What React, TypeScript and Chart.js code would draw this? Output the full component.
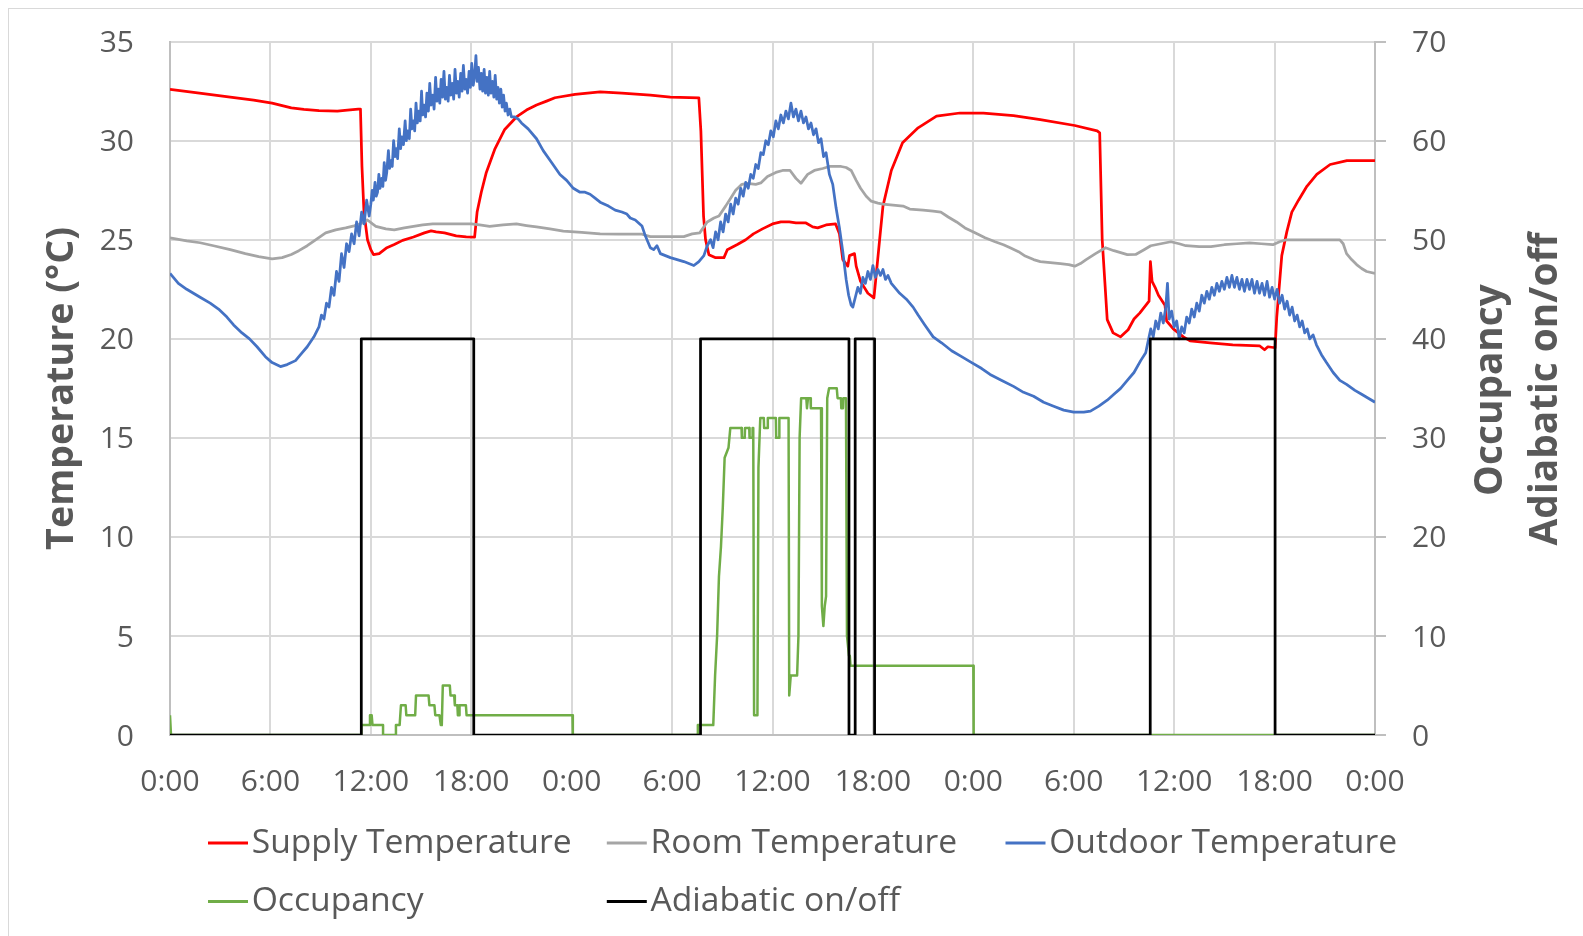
import React, { useEffect, useRef } from "react";
import { Chart, registerables } from "chart.js";

Chart.register(...registerables);

// ---- tick settings ----
const hourMin = 0;
const hourMax = 72;
const hourStep = 6;
const tempMin = 0;
const tempMax = 35;
const tempStep = 5;
const rightMin = 0;
const rightMax = 70;
const rightStep = 10;

const seriesNames = [
  "Supply Temperature",
  "Room Temperature",
  "Outdoor Temperature",
  "Occupancy",
  "Adiabatic on/off",
];
const leftTitle = "Temperature (°C)";
const rightTitleLines = ["Occupancy", "Adiabatic on/off"];

// ---- data: [hour, value] ----
const supplyTemp: [number, number][] = [
  [0, 32.6], [1.76, 32.4], [3.6, 32.2], [5.0, 32.05], [6.1, 31.9], [7.25, 31.66], [8.0, 31.58], [8.9, 31.52],
  [10.0, 31.5], [10.6, 31.55], [11.25, 31.6], [11.38, 31.6], [11.47, 28.7], [11.59, 26.4], [11.8, 25.0],
  [12.0, 24.5], [12.16, 24.25], [12.5, 24.3], [12.96, 24.6], [13.4, 24.76], [13.9, 24.97], [14.55, 25.14],
  [15.2, 25.35], [15.6, 25.45], [15.9, 25.4], [16.4, 25.35], [17.1, 25.2], [17.7, 25.15], [18.2, 25.13],
  [18.35, 26.4], [18.6, 27.4], [18.9, 28.4], [19.4, 29.56], [20.0, 30.57], [20.7, 31.2], [21.3, 31.55],
  [21.9, 31.8], [22.5, 32.0], [23.0, 32.17], [24.2, 32.34], [25.7, 32.47], [27.0, 32.4], [28.7, 32.3],
  [29.9, 32.2], [31.6, 32.17], [31.72, 30.5], [31.88, 26.2], [32.0, 25.0], [32.2, 24.25], [32.57, 24.1],
  [33.1, 24.1], [33.3, 24.5], [33.9, 24.76], [34.4, 25.0], [34.86, 25.3], [35.4, 25.55], [36.0, 25.8],
  [36.5, 25.9], [37.0, 25.9], [37.4, 25.85], [38.0, 25.85], [38.4, 25.65], [38.7, 25.6], [39.2, 25.75],
  [39.77, 25.8], [40.0, 25.3], [40.2, 24.0], [40.5, 23.67], [40.6, 24.2], [40.9, 24.3], [41.0, 23.67],
  [41.26, 22.9], [41.7, 22.3], [42.06, 22.07], [42.17, 23.0], [42.4, 25.0], [42.6, 26.7], [43.1, 28.5],
  [43.77, 29.9], [44.7, 30.65], [45.8, 31.24], [47.2, 31.4], [48.6, 31.4], [50.4, 31.27], [52.0, 31.07],
  [54.06, 30.77], [55.4, 30.5], [55.55, 30.4], [55.7, 25.0], [56.0, 20.97], [56.35, 20.3], [56.8, 20.1],
  [57.25, 20.46], [57.6, 21.0], [57.94, 21.3], [58.5, 21.9], [58.58, 23.9], [58.68, 22.9], [58.86, 22.6],
  [59.06, 22.2], [59.45, 21.7], [59.55, 20.9], [59.95, 20.5], [60.55, 20.1], [60.95, 19.9], [62.15, 19.8],
  [63.5, 19.7], [65.1, 19.65], [65.4, 19.45], [65.6, 19.6], [66.03, 19.55], [66.13, 21.1], [66.43, 24.2],
  [66.73, 25.4], [67.03, 26.4], [67.43, 27.0], [67.93, 27.7], [68.52, 28.3], [69.32, 28.8], [70.32, 29.0],
  [72, 29.0],
];

const roomTemp: [number, number][] = [
  [0, 25.1], [1.0, 24.95], [1.8, 24.85], [2.6, 24.7], [3.6, 24.5], [4.5, 24.3], [5.3, 24.15], [6.1, 24.04],
  [6.7, 24.1], [7.25, 24.26], [7.7, 24.45], [8.2, 24.7], [8.7, 25.0], [9.3, 25.35], [9.9, 25.5], [10.5, 25.6],
  [11.0, 25.7], [11.5, 25.85], [11.8, 26.0], [12.1, 25.8], [12.3, 25.68], [12.9, 25.55], [13.4, 25.5],
  [14.0, 25.6], [14.55, 25.68], [15.1, 25.75], [15.7, 25.8], [16.8, 25.8], [18.0, 25.8], [18.5, 25.75],
  [19.1, 25.68], [19.9, 25.75], [20.7, 25.8], [21.3, 25.72], [21.9, 25.65], [22.7, 25.55], [23.5, 25.44],
  [24.6, 25.38], [25.7, 25.3], [26.8, 25.28], [28.2, 25.28], [28.7, 25.16], [29.5, 25.16], [30.7, 25.16],
  [31.2, 25.3], [31.65, 25.35], [32.1, 25.9], [32.5, 26.1], [32.8, 26.2], [33.2, 26.7], [33.5, 27.1],
  [33.8, 27.5], [34.17, 27.8], [34.5, 27.85], [35.0, 27.8], [35.3, 27.87], [35.7, 28.2], [36.2, 28.4],
  [36.6, 28.5], [37.05, 28.5], [37.4, 28.1], [37.7, 27.85], [38.1, 28.3], [38.5, 28.5], [39.0, 28.6],
  [39.4, 28.7], [39.8, 28.7], [40.1, 28.7], [40.4, 28.65], [40.7, 28.5], [41.0, 28.0], [41.26, 27.6],
  [41.6, 27.2], [41.9, 26.95], [42.3, 26.85], [42.6, 26.8], [43.2, 26.75], [43.8, 26.7], [44.2, 26.55],
  [45.0, 26.5], [45.6, 26.45], [46.06, 26.4], [46.5, 26.15], [47.0, 25.9], [47.5, 25.6], [48.1, 25.35],
  [48.7, 25.1], [49.3, 24.9], [49.8, 24.75], [50.2, 24.6], [50.7, 24.4], [51.1, 24.18], [51.6, 24.0],
  [52.0, 23.9], [52.6, 23.85], [53.2, 23.8], [53.7, 23.75], [54.06, 23.67], [54.4, 23.8], [54.74, 24.0],
  [55.3, 24.3], [55.9, 24.6], [56.4, 24.45], [56.8, 24.35], [57.2, 24.25], [57.7, 24.26], [58.2, 24.5],
  [58.6, 24.7], [59.2, 24.8], [59.8, 24.9], [60.3, 24.8], [60.7, 24.7], [61.5, 24.65], [62.2, 24.65],
  [63.0, 24.75], [63.75, 24.8], [64.5, 24.85], [65.2, 24.8], [65.9, 24.75], [66.3, 24.9], [66.7, 25.0],
  [67.5, 25.0], [68.3, 25.0], [69.1, 25.0], [69.9, 25.0], [70.1, 24.8], [70.3, 24.3], [70.6, 24.0],
  [70.9, 23.75], [71.2, 23.55], [71.5, 23.4], [72, 23.3],
];

const outdoorTemp: [number, number][] = [
  [0, 23.3], [0.5, 22.8], [1.0, 22.5], [1.8, 22.1], [2.4, 21.8], [2.9, 21.5], [3.4, 21.1], [3.8, 20.7],
  [4.3, 20.3], [4.75, 20.0], [5.2, 19.6], [5.7, 19.1], [6.1, 18.8], [6.6, 18.6], [7.0, 18.7], [7.5, 18.9],
  [7.9, 19.3], [8.2, 19.6], [8.6, 20.1], [8.9, 20.6], [9.05, 21.2], [9.2, 21.0], [9.35, 21.8], [9.5, 21.6],
  [9.65, 22.6], [9.8, 22.2], [9.95, 23.4], [10.1, 22.9], [10.25, 24.3], [10.4, 23.6], [10.55, 24.8],
  [10.7, 24.4], [10.85, 25.3], [11.0, 24.8], [11.15, 25.9], [11.3, 25.2], [11.45, 26.4], [11.6, 25.8],
  [11.75, 27.0], [11.9, 26.2],
  [12.0, 26.8], [12.08, 27.5], [12.15, 27.0], [12.25, 27.9], [12.32, 27.2], [12.4, 27.4], [12.48, 28.3],
  [12.55, 27.6], [12.65, 28.1], [12.72, 27.7], [12.8, 28.9], [12.88, 28.0], [12.95, 28.4], [13.05, 29.5],
  [13.12, 28.6], [13.2, 29.0], [13.28, 28.7], [13.36, 30.0], [13.45, 29.2], [13.52, 29.6], [13.6, 29.1],
  [13.7, 30.6], [13.78, 29.6], [13.85, 30.2], [13.95, 29.8], [14.05, 31.0], [14.12, 30.0], [14.2, 30.5],
  [14.3, 30.1], [14.38, 31.6], [14.46, 30.6], [14.55, 31.0], [14.62, 30.5], [14.7, 31.9], [14.78, 30.9],
  [14.86, 31.5], [14.95, 31.0], [15.03, 32.5], [15.1, 31.3], [15.18, 31.8], [15.27, 31.2], [15.35, 32.4],
  [15.44, 31.5], [15.52, 32.9], [15.6, 31.8], [15.7, 32.3], [15.78, 31.6], [15.87, 33.2], [15.95, 32.0],
  [16.03, 32.6], [16.12, 31.9], [16.2, 33.1], [16.28, 32.2], [16.37, 33.5], [16.45, 32.1], [16.53, 32.7],
  [16.62, 32.0], [16.7, 33.3], [16.78, 32.3], [16.87, 32.9], [16.95, 32.1], [17.03, 33.6], [17.12, 32.4],
  [17.2, 33.0], [17.28, 32.2], [17.37, 33.4], [17.45, 32.5], [17.53, 33.8], [17.62, 32.6], [17.7, 33.1],
  [17.78, 32.4], [17.87, 33.5], [17.95, 32.7], [18.03, 33.9], [18.12, 32.8], [18.2, 33.3], [18.28, 34.3],
  [18.35, 33.0], [18.43, 33.7], [18.52, 32.6], [18.6, 33.4], [18.68, 32.5], [18.77, 33.6], [18.85, 32.4],
  [18.93, 33.2], [19.02, 32.3], [19.1, 33.5], [19.18, 32.4], [19.27, 33.0], [19.35, 32.2], [19.43, 33.3],
  [19.52, 32.1], [19.6, 32.7], [19.68, 31.9], [19.77, 32.6], [19.85, 31.7], [19.93, 32.3], [20.02, 31.5],
  [20.1, 31.9], [20.2, 31.3], [20.3, 31.6], [20.4, 31.2], [20.6, 31.2], [20.8, 31.1], [21.0, 30.9],
  [21.4, 30.6], [21.9, 30.1], [22.3, 29.5], [22.8, 28.9], [23.3, 28.3], [23.7, 28.0], [24.1, 27.6],
  [24.5, 27.4], [24.8, 27.4], [25.1, 27.3], [25.4, 27.1], [25.7, 26.9], [26.2, 26.7], [26.6, 26.5],
  [27.0, 26.4], [27.3, 26.3], [27.5, 26.1], [27.8, 26.0], [28.2, 25.7], [28.4, 25.2], [28.7, 24.6],
  [28.9, 24.5], [29.1, 24.7], [29.3, 24.3], [29.6, 24.2], [29.9, 24.1], [30.3, 24.0], [30.7, 23.9],
  [31.0, 23.8], [31.3, 23.7], [31.6, 23.9], [31.9, 24.2], [32.1, 24.7], [32.3, 25.0], [32.45, 24.6],
  [32.6, 25.4], [32.75, 25.0], [32.9, 25.9], [33.05, 25.4], [33.2, 26.3], [33.35, 25.9], [33.5, 26.8],
  [33.65, 26.3], [33.8, 27.1], [33.95, 26.8], [34.1, 27.6], [34.25, 27.2], [34.4, 27.9], [34.55, 27.6],
  [34.7, 28.3], [34.85, 28.1], [35.0, 28.8], [35.15, 28.6], [35.3, 29.4], [35.45, 29.3], [35.6, 30.0],
  [35.75, 29.8], [35.9, 30.5], [36.05, 30.2], [36.2, 31.0], [36.35, 30.6], [36.5, 31.3], [36.65, 30.9],
  [36.8, 31.5], [36.95, 31.1], [37.1, 31.9], [37.25, 31.2], [37.4, 31.6], [37.55, 31.0], [37.7, 31.5],
  [37.85, 30.9], [38.0, 31.2], [38.15, 30.6], [38.3, 30.9], [38.45, 30.3], [38.6, 30.6], [38.75, 29.9],
  [38.9, 30.1], [39.05, 29.2], [39.2, 29.4], [39.4, 28.3], [39.6, 27.8], [39.8, 26.6], [40.0, 25.6],
  [40.2, 24.4], [40.4, 23.0], [40.55, 22.2], [40.7, 21.7], [40.8, 21.6], [40.95, 22.1], [41.1, 22.6],
  [41.25, 22.3], [41.4, 23.1], [41.55, 22.8], [41.7, 23.4], [41.85, 23.0], [42.0, 23.7], [42.15, 23.1],
  [42.3, 23.5], [42.45, 23.2], [42.6, 23.5], [42.75, 23.0], [42.9, 23.2], [43.1, 22.8], [43.3, 22.6],
  [43.6, 22.3], [44.0, 22.0], [44.4, 21.6], [44.7, 21.2], [45.1, 20.7], [45.6, 20.1], [46.1, 19.8],
  [46.7, 19.4], [47.3, 19.1], [47.9, 18.8], [48.5, 18.5], [49.0, 18.2], [49.7, 17.9], [50.4, 17.6],
  [51.0, 17.3], [51.6, 17.1], [52.2, 16.8], [52.8, 16.6], [53.4, 16.4], [54.0, 16.3], [54.6, 16.3],
  [55.0, 16.35], [55.5, 16.6], [56.0, 16.9], [56.4, 17.2], [56.8, 17.5], [57.2, 17.9], [57.6, 18.3],
  [58.0, 18.9], [58.3, 19.3], [58.45, 19.9], [58.6, 20.5], [58.75, 20.1], [58.9, 20.9], [59.05, 20.5],
  [59.2, 21.3], [59.35, 20.8], [59.5, 21.6], [59.6, 22.8], [59.7, 21.0], [59.85, 21.4], [60.0, 20.6],
  [60.15, 20.9], [60.3, 20.0], [60.45, 20.6], [60.6, 20.3], [60.75, 21.1], [60.9, 20.8], [61.05, 21.5],
  [61.2, 21.1], [61.35, 21.8], [61.5, 21.4], [61.65, 22.2], [61.8, 21.8], [61.95, 22.4], [62.1, 22.0],
  [62.25, 22.6], [62.4, 22.2], [62.55, 22.8], [62.7, 22.4], [62.85, 22.9], [63.0, 22.5], [63.15, 23.1],
  [63.3, 22.6], [63.45, 23.2], [63.6, 22.6], [63.75, 23.1], [63.9, 22.5], [64.05, 23.0], [64.2, 22.4],
  [64.35, 23.0], [64.5, 22.5], [64.65, 23.0], [64.8, 22.3], [64.95, 22.9], [65.1, 22.3], [65.25, 22.8],
  [65.4, 22.2], [65.55, 22.9], [65.7, 22.1], [65.85, 22.6], [66.0, 22.0], [66.15, 22.5], [66.3, 21.8],
  [66.45, 22.2], [66.6, 21.5], [66.75, 21.9], [66.9, 21.2], [67.05, 21.6], [67.2, 20.9], [67.35, 21.2],
  [67.5, 20.6], [67.65, 20.9], [67.8, 20.3], [67.95, 20.5], [68.1, 20.0], [68.3, 20.2], [68.5, 19.7],
  [68.8, 19.2], [69.1, 18.8], [69.5, 18.3], [69.9, 17.9], [70.3, 17.7], [70.8, 17.4], [71.2, 17.2],
  [71.6, 17.0], [72, 16.8],
];

const occupancy: [number, number][] = [
  [0, 2], [0.06, 0], [11.43, 0], [11.43, 1], [11.9, 1], [11.95, 2], [12.05, 2], [12.1, 1], [12.73, 1],
  [12.73, 0], [13.48, 0], [13.5, 1], [13.72, 1], [13.8, 3], [14.08, 3], [14.12, 2], [14.65, 2], [14.7, 4],
  [15.45, 4], [15.5, 3], [15.8, 3], [15.85, 2], [16.1, 2], [16.18, 1], [16.24, 1], [16.3, 5], [16.72, 5],
  [16.76, 4], [16.98, 4], [17.02, 3], [17.17, 3], [17.2, 2], [17.27, 2], [17.3, 3], [17.68, 3], [17.72, 2],
  [24.05, 2], [24.07, 0], [31.52, 0], [31.54, 1], [32.46, 1], [32.57, 6], [32.69, 10], [32.8, 16],
  [32.92, 19], [33.03, 23], [33.14, 28], [33.37, 29], [33.48, 31], [34.15, 31], [34.17, 30], [34.34, 30],
  [34.36, 31], [34.61, 31], [34.63, 30], [34.79, 30], [34.81, 31], [34.85, 31], [34.9, 2], [35.1, 2],
  [35.16, 27], [35.27, 32], [35.48, 32], [35.5, 31], [35.7, 31], [35.72, 32], [36.2, 32], [36.22, 30],
  [36.39, 30], [36.41, 32], [36.96, 32], [37.0, 4], [37.09, 6], [37.47, 6], [37.55, 10], [37.62, 30],
  [37.71, 34], [38.02, 34], [38.06, 33], [38.12, 34], [38.27, 34], [38.29, 33], [38.9, 33], [38.95, 13],
  [39.04, 11], [39.12, 13], [39.2, 14], [39.27, 34], [39.38, 35], [39.84, 35], [39.89, 34], [40.09, 34],
  [40.11, 33], [40.21, 33], [40.23, 34], [40.39, 34], [40.45, 10], [40.57, 8], [40.62, 8], [40.66, 7],
  [48.0, 7], [48.02, 0], [72, 0],
];

const adiabatic: [number, number][] = [
  [0, 0], [11.43, 0], [11.43, 40], [18.15, 40], [18.15, 0], [31.7, 0], [31.7, 40], [40.57, 40], [40.57, 0],
  [40.94, 0], [40.94, 40], [42.1, 40], [42.1, 0], [58.57, 0], [58.57, 40], [66.03, 40], [66.03, 0], [72, 0],
];

// ---- styles ----
const seriesColors = ["#FF0000", "#A5A5A5", "#4472C4", "#70AD47", "#000000"];
const textColor = "#595959";
const FONT = "'Open Sans'";

const toXY = (arr: [number, number][]) => arr.map(([x, y]) => ({ x, y }));

// font size so that `text` spans `target` px
const fitSize = (ctx: CanvasRenderingContext2D, text: string, weight: string, target: number) => {
  ctx.font = `${weight} 40px ${FONT}`;
  const w = ctx.measureText(text).width || 1;
  return (40 * target) / w;
};

const legendPlugin = {
  id: "gridLegend",
  afterDraw(chart: any) {
    const ctx = chart.ctx as CanvasRenderingContext2D;
    const colX = [199, 597.8, 996.5];
    const rowY = [834, 892.6];
    ctx.save();
    const size = fitSize(ctx, seriesNames[0], "normal", 320);
    ctx.font = `normal ${size}px ${FONT}`;
    ctx.textBaseline = "alphabetic";
    ctx.textAlign = "left";
    seriesNames.forEach((name, i) => {
      const row = i < 3 ? 0 : 1;
      const col = i < 3 ? i : i - 3;
      const x0 = colX[col];
      const y0 = rowY[row];
      ctx.strokeStyle = seriesColors[i];
      ctx.lineWidth = 3;
      ctx.beginPath();
      ctx.moveTo(x0, y0);
      ctx.lineTo(x0 + 40, y0);
      ctx.stroke();
      ctx.fillStyle = textColor;
      ctx.fillText(name, x0 + 43.7, y0 + 9.7);
    });
    ctx.restore();
  },
};

const titlePlugin = {
  id: "axisTitles",
  afterDraw(chart: any) {
    const ctx = chart.ctx as CanvasRenderingContext2D;
    ctx.save();
    ctx.fillStyle = textColor;
    ctx.textAlign = "center";
    ctx.textBaseline = "alphabetic";
    const draw = (text: string, x: number, y: number) => {
      ctx.save();
      ctx.translate(x, y);
      ctx.rotate(-Math.PI / 2);
      ctx.fillText(text, 0, 0);
      ctx.restore();
    };
    const leftSize = fitSize(ctx, leftTitle, "bold", 323);
    ctx.font = `bold ${leftSize}px ${FONT}`;
    draw(leftTitle, 64, 379.5);
    const rightSize = fitSize(ctx, rightTitleLines[1], "bold", 313);
    ctx.font = `bold ${rightSize}px ${FONT}`;
    draw(rightTitleLines[0], 1492.7, 381);
    draw(rightTitleLines[1], 1547.7, 380);
    ctx.restore();
  },
};

// keep tick padding from pushing the plot area around
const noVPad = (s: any) => {
  s.paddingTop = 0;
  s.paddingBottom = 0;
};

export default function App() {
  const ref = useRef<HTMLCanvasElement | null>(null);

  useEffect(() => {
    if (!ref.current) return;
    const series = [supplyTemp, roomTemp, outdoorTemp, occupancy, adiabatic];
    const axisIds = ["y", "y", "y", "y2", "y2"];
    const widths = [2.75, 2.75, 2.75, 2.5, 2.75];
    const tickFont = { family: FONT, size: 30 };

    const chart = new Chart(ref.current, {
      type: "line",
      data: {
        datasets: series.map((s, i) => ({
          label: seriesNames[i],
          data: toXY(s),
          borderColor: seriesColors[i],
          backgroundColor: seriesColors[i],
          borderWidth: widths[i],
          pointRadius: 0,
          pointHoverRadius: 0,
          tension: 0,
          fill: false,
          borderJoinStyle: "round" as const,
          yAxisID: axisIds[i],
          order: 5 - i,
        })),
      },
      options: {
        responsive: false,
        animation: false,
        devicePixelRatio: 1,
        events: [],
        layout: { autoPadding: false, padding: { top: 32.7, left: 0, right: 0, bottom: 0 } },
        plugins: {
          legend: { display: false },
          tooltip: { enabled: false },
          title: { display: false },
        },
        scales: {
          x: {
            type: "linear",
            min: hourMin,
            max: hourMax,
            ticks: {
              stepSize: hourStep,
              autoSkip: false,
              maxRotation: 0,
              color: textColor,
              font: tickFont,
              padding: 29,
              callback: (v: any) => `${Number(v) % 24}:00`,
            },
            grid: { color: "#D9D9D9", lineWidth: 2, drawTicks: false },
            border: { display: true, color: "#BFBFBF", width: 2 },
            afterFit: (s: any) => {
              s.height = 201;
              s.paddingLeft = 0;
              s.paddingRight = 0;
            },
          },
          y: {
            position: "left",
            min: tempMin,
            max: tempMax,
            ticks: { stepSize: tempStep, color: textColor, font: tickFont, padding: 36, labelOffset: 2 },
            grid: { color: "#D9D9D9", lineWidth: 2, drawTicks: false },
            border: { display: true, color: "#BFBFBF", width: 2 },
            afterFit: (s: any) => {
              s.width = 161;
              noVPad(s);
            },
          },
          y2: {
            position: "right",
            min: rightMin,
            max: rightMax,
            ticks: { stepSize: rightStep, color: textColor, font: tickFont, padding: 26, labelOffset: 2 },
            grid: { drawOnChartArea: false, color: "#BFBFBF", lineWidth: 2, drawTicks: true, tickLength: 11 },
            border: { display: true, color: "#BFBFBF", width: 2 },
            afterFit: (s: any) => {
              s.width = 208;
              noVPad(s);
            },
          },
        },
      } as any,
      plugins: [legendPlugin, titlePlugin],
    });

    let alive = true;
    const fonts = (document as any).fonts;
    if (fonts && fonts.load) {
      Promise.all([fonts.load(`30px ${FONT}`), fonts.load(`bold 39px ${FONT}`)])
        .then(() => {
          if (alive) chart.update();
        })
        .catch(() => {});
    }

    return () => {
      alive = false;
      chart.destroy();
    };
  }, []);

  return (
    <div
      style={{
        position: "fixed",
        left: 8,
        top: 8,
        width: 1574,
        height: 927,
        borderLeft: "1px solid #D9D9D9",
        borderTop: "1px solid #D9D9D9",
        background: "#FFFFFF",
      }}
    >
      <canvas ref={ref} width={1574} height={927} style={{ display: "block", width: 1574, height: 927 }} />
    </div>
  );
}
